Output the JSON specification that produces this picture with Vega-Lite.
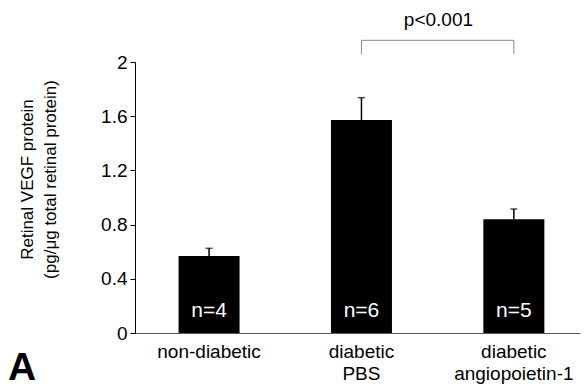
{
  "$schema": "https://vega.github.io/schema/vega-lite/v6.json",
  "width": 445,
  "height": 271,
  "autosize": "none",
  "padding": {"left": 135, "top": 62, "right": 4, "bottom": 58},
  "background": "white",
  "config": {
    "font": "Liberation Sans",
    "view": {"stroke": null}
  },
  "title": {
    "text": "A",
    "orient": "bottom",
    "anchor": "start",
    "frame": "group",
    "baseline": "alphabetic",
    "fontSize": 39,
    "fontWeight": "bold",
    "color": "black",
    "font": "Liberation Sans",
    "dx": -127,
    "offset": -3
  },
  "datasets": {
    "bars": [
      {"group": "non-diabetic", "value": 0.568, "upper": 0.625, "n": "n=4"},
      {"group": "diabetic PBS", "value": 1.572, "upper": 1.737, "n": "n=6"},
      {"group": "diabetic angiopoietin-1", "value": 0.839, "upper": 0.915, "n": "n=5"}
    ],
    "bracketH": [
      {"from": "diabetic PBS", "to": "diabetic angiopoietin-1", "y": 2.16}
    ],
    "bracketV": [
      {"group": "diabetic PBS", "y": 2.06, "y2": 2.16},
      {"group": "diabetic angiopoietin-1", "y": 2.06, "y2": 2.16}
    ],
    "ptext": [
      {"group": "diabetic PBS", "y": 2.31, "label": "p<0.001"}
    ]
  },
  "layer": [
    {
      "data": {"name": "bars"},
      "mark": {"type": "bar", "color": "black", "width": 61},
      "encoding": {
        "x": {
          "field": "group",
          "type": "nominal",
          "sort": null,
          "scale": {
            "domain": ["non-diabetic", "diabetic PBS", "diabetic angiopoietin-1"],
            "paddingInner": 0.6,
            "paddingOuter": 0.26,
            "align": 0.55
          },
          "axis": {
            "title": null,
            "labelAngle": 0,
            "ticks": false,
            "domainColor": "#555",
            "domainWidth": 1,
            "labelColor": "black",
            "labelFontSize": 19,
            "labelPadding": 9,
            "labelLineHeight": 22,
            "labelExpr": "split(datum.label, ' ')"
          }
        },
        "y": {
          "field": "value",
          "type": "quantitative",
          "scale": {"domain": [0, 2], "nice": false},
          "axis": {
            "values": [0, 0.2, 0.4, 0.6, 0.8, 1.0, 1.2, 1.4, 1.6, 1.8, 2.0],
            "labelExpr": "abs(round(datum.value * 10) % 4) < 0.5 ? format(datum.value, '~g') : ''",
            "grid": false,
            "domainColor": "black",
            "tickColor": "black",
            "tickSize": {"condition": {"test": "abs(round(datum.value * 10) % 4) < 0.5", "value": 5}, "value": 3},
            "labelFontSize": 19,
            "labelColor": "black",
            "labelPadding": 3,
            "title": ["Retinal VEGF protein", "(pg/μg total retinal protein)"],
            "titleFontSize": 17,
            "titleFontWeight": "normal",
            "titleColor": "black",
            "titleLineHeight": 23,
            "titleAngle": -90,
            "titleBaseline": "top",
            "titleAlign": "center",
            "titleX": -116,
            "titleY": 117
          }
        }
      }
    },
    {
      "data": {"name": "bars"},
      "mark": {"type": "rule", "color": "black", "strokeWidth": 1.5},
      "encoding": {
        "x": {"field": "group", "type": "nominal", "sort": null},
        "y": {"field": "value", "type": "quantitative"},
        "y2": {"field": "upper"}
      }
    },
    {
      "data": {"name": "bars"},
      "mark": {"type": "tick", "color": "black", "size": 7, "thickness": 1.5},
      "encoding": {
        "x": {"field": "group", "type": "nominal", "sort": null},
        "y": {"field": "upper", "type": "quantitative"}
      }
    },
    {
      "data": {"name": "bars"},
      "mark": {"type": "text", "color": "white", "fontSize": 21, "baseline": "alphabetic", "dy": -16},
      "encoding": {
        "x": {"field": "group", "type": "nominal", "sort": null},
        "y": {"datum": 0, "type": "quantitative"},
        "text": {"field": "n"}
      }
    },
    {
      "data": {"name": "bracketH"},
      "mark": {"type": "rule", "color": "#888", "strokeWidth": 1},
      "encoding": {
        "x": {"field": "from", "type": "nominal", "sort": null},
        "x2": {"field": "to"},
        "y": {"field": "y", "type": "quantitative"}
      }
    },
    {
      "data": {"name": "bracketV"},
      "mark": {"type": "rule", "color": "#888", "strokeWidth": 1},
      "encoding": {
        "x": {"field": "group", "type": "nominal", "sort": null},
        "y": {"field": "y", "type": "quantitative"},
        "y2": {"field": "y2"}
      }
    },
    {
      "data": {"name": "ptext"},
      "mark": {"type": "text", "color": "black", "fontSize": 19, "dx": 77, "baseline": "middle"},
      "encoding": {
        "x": {"field": "group", "type": "nominal", "sort": null},
        "y": {"field": "y", "type": "quantitative"},
        "text": {"field": "label"}
      }
    }
  ]
}
